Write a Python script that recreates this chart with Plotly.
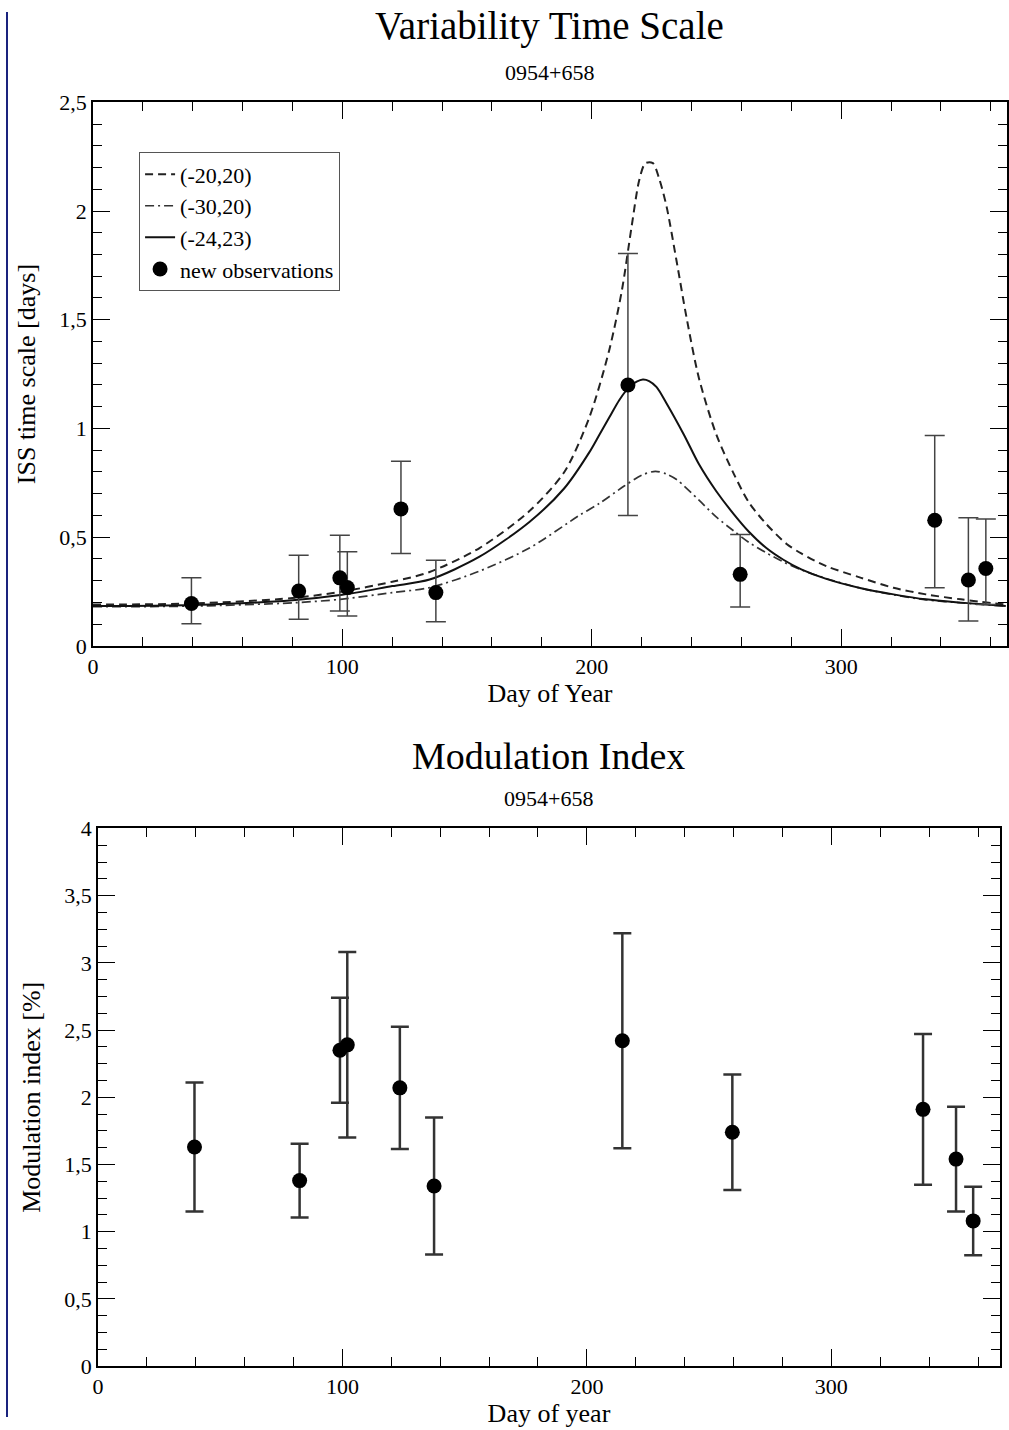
import plotly.graph_objects as go

# ---- observations of 0954+658 (day of year) ----
obs_day = [39.5, 82.5, 99, 102, 123.5, 137.5, 214.5, 259.5, 337.5, 351, 358]

# ISS time scale [days] with asymmetric errors
iss_t = [0.195, 0.252, 0.313, 0.268, 0.63, 0.245, 1.20, 0.329, 0.578, 0.303, 0.356]
iss_err_plus = [0.118, 0.165, 0.196, 0.165, 0.219, 0.149, 0.604, 0.183, 0.39, 0.286, 0.227]
iss_err_minus = [0.093, 0.130, 0.153, 0.130, 0.205, 0.134, 0.60, 0.150, 0.311, 0.188, 0.166]

# modulation index [%] with symmetric errors
mod_idx = [1.63, 1.38, 2.35, 2.39, 2.07, 1.34, 2.42, 1.74, 1.91, 1.54, 1.08]
mod_err = [0.48, 0.275, 0.39, 0.69, 0.455, 0.51, 0.80, 0.43, 0.56, 0.39, 0.255]

# ---- annual-modulation model curves ----
m1_day = [0, 40, 80, 100, 120, 135, 155, 175, 189, 199, 207, 212, 216, 219, 221.5, 224.5,
          227, 230, 234, 238, 243, 250, 257, 263, 270, 278, 284, 294, 308, 321, 334, 348, 366]
m1_val = [0.19, 0.195, 0.22, 0.25, 0.295, 0.34, 0.45, 0.62, 0.80, 1.05, 1.36, 1.63, 1.93, 2.14,
          2.22, 2.22, 2.15, 2.02, 1.77, 1.51, 1.23, 0.97, 0.79, 0.66, 0.56, 0.47, 0.425, 0.367,
          0.313, 0.267, 0.237, 0.214, 0.19]

m2_day = [0, 40, 80, 100, 120, 135, 155, 175, 195, 203, 213, 220, 225.5, 230, 234, 243, 250,
          257, 263, 270, 277, 284, 294, 308, 321, 334, 348, 366]
m2_val = [0.18, 0.183, 0.198, 0.215, 0.245, 0.268, 0.344, 0.45, 0.60, 0.655, 0.735, 0.785, 0.803,
          0.79, 0.765, 0.67, 0.592, 0.528, 0.476, 0.428, 0.385, 0.35, 0.31, 0.265, 0.235,
          0.212, 0.198, 0.183]

m3_day = [0, 40, 80, 100, 120, 135, 155, 175, 189, 199, 203, 207, 211, 215, 218, 220.5, 223,
          226, 230, 237, 243, 250, 257, 263, 270, 277, 284, 294, 308, 321, 334, 348, 366]
m3_val = [0.183, 0.188, 0.21, 0.235, 0.275, 0.305, 0.41, 0.57, 0.725, 0.89, 0.97, 1.05, 1.13,
          1.19, 1.215, 1.225, 1.218, 1.19, 1.115, 0.97, 0.835, 0.71, 0.605, 0.525, 0.45, 0.395,
          0.352, 0.308, 0.265, 0.237, 0.214, 0.199, 0.183]

model_names = ["(-20,20)", "(-30,20)", "(-24,23)"]

top_yticks = [0, 0.5, 1, 1.5, 2, 2.5]
top_ytext = ["0", "0,5", "1", "1,5", "2", "2,5"]
bot_yticks = [0, 0.5, 1, 1.5, 2, 2.5, 3, 3.5, 4]
bot_ytext = ["0", "0,5", "1", "1,5", "2", "2,5", "3", "3,5", "4"]
xticks = [0, 100, 200, 300]

FONT = "Liberation Serif, Times New Roman, serif"
W, H = 1009, 1430


def px(x):
    """layout x position (px) -> paper fraction"""
    return ((x - 5.0) / 0.995) / W


def py(y):
    """layout y position (px from top) -> paper fraction"""
    return 1 - ((y - 9.5) / 0.985) / H


fig = go.Figure()

fig.add_trace(go.Scatter(x=m1_day, y=m1_val, mode="lines", name=model_names[0],
                         line=dict(color="#222", width=2, dash="8px,5px", shape="spline", smoothing=0.8),
                         xaxis="x", yaxis="y"))
fig.add_trace(go.Scatter(x=m2_day, y=m2_val, mode="lines", name=model_names[1],
                         line=dict(color="#333", width=1.7, dash="9px,4px,2px,4px", shape="spline",
                                   smoothing=0.8),
                         xaxis="x", yaxis="y"))
fig.add_trace(go.Scatter(x=m3_day, y=m3_val, mode="lines", name=model_names[2],
                         line=dict(color="#111", width=2, shape="spline", smoothing=0.8),
                         xaxis="x", yaxis="y"))
fig.add_trace(go.Scatter(x=obs_day, y=iss_t, mode="markers", name="new observations",
                         marker=dict(color="black", size=15),
                         error_y=dict(type="data", symmetric=False, array=iss_err_plus,
                                      arrayminus=iss_err_minus, color="#444", thickness=1.5, width=10),
                         xaxis="x", yaxis="y"))

fig.add_trace(go.Scatter(x=obs_day, y=mod_idx, mode="markers", showlegend=False,
                         marker=dict(color="black", size=15),
                         error_y=dict(type="data", array=mod_err, color="#333", thickness=2.5, width=9),
                         xaxis="x2", yaxis="y2"))

top_x = [px(92), min(px(1007), 1.0)]
top_y = [py(645), py(100)]
bot_x = [px(97), px(1000)]
bot_y = [py(1367), py(828)]

axis_common = dict(showline=True, linecolor="black", linewidth=1.5, mirror="ticks",
                   ticks="inside", tickcolor="black", tickwidth=1.3, ticklen=17,
                   showgrid=False, zeroline=False,
                   tickfont=dict(family=FONT, size=22, color="black"))

fig.update_layout(
    width=W, height=H,
    margin=dict(l=0, r=0, t=0, b=0),
    paper_bgcolor="white", plot_bgcolor="white",
    font=dict(family=FONT, color="black"),
    xaxis=dict(domain=top_x, anchor="y", range=[0, 366.5], tickvals=xticks,
               minor=dict(dtick=20, tick0=0, ticks="inside", ticklen=9, tickcolor="black"),
               title=dict(text="Day of Year", font=dict(family=FONT, size=26), standoff=4),
               **axis_common),
    yaxis=dict(domain=top_y, anchor="x", range=[0, 2.5], tickvals=top_yticks, ticktext=top_ytext,
               minor=dict(dtick=0.1, tick0=0, ticks="inside", ticklen=9, tickcolor="black"),
               title=dict(text="ISS time scale [days]", font=dict(family=FONT, size=26), standoff=16),
               **axis_common),
    xaxis2=dict(domain=bot_x, anchor="y2", range=[0, 369], tickvals=xticks,
                minor=dict(dtick=20, tick0=0, ticks="inside", ticklen=9, tickcolor="black"),
                title=dict(text="Day of year", font=dict(family=FONT, size=26), standoff=4),
                **axis_common),
    yaxis2=dict(domain=bot_y, anchor="x2", range=[0, 4], tickvals=bot_yticks, ticktext=bot_ytext,
                minor=dict(dtick=0.125, tick0=0, ticks="inside", ticklen=9, tickcolor="black"),
                title=dict(text="Modulation index [%]", font=dict(family=FONT, size=26), standoff=16),
                **axis_common),
    legend=dict(x=px(138), y=py(150), xanchor="left", yanchor="top",
                bgcolor="white", bordercolor="#555", borderwidth=1.2,
                font=dict(family=FONT, size=22, color="black"),
                itemwidth=30, tracegroupgap=0),
    showlegend=True,
)

# panel titles and source name
cx_top = (px(92) + px(1007)) / 2
cx_bot = (bot_x[0] + bot_x[1]) / 2
for cx, y_px, txt, size in [(cx_top, 24, "Variability Time Scale", 39),
                            (cx_top, 70, "0954+658", 22),
                            (cx_bot, 755, "Modulation Index", 38),
                            (cx_bot, 798, "0954+658", 22)]:
    fig.add_annotation(x=cx, y=py(y_px), xref="paper", yref="paper", yanchor="middle",
                       xanchor="center", text=txt, showarrow=False,
                       font=dict(family=FONT, size=size, color="black"))

# thin frame line along the left edge of the page
fig.add_shape(type="line", xref="paper", yref="paper", x0=0.001, x1=0.001, y0=0, y1=1,
              line=dict(color="#1a237e", width=2))

fig.write_html("out.html")
